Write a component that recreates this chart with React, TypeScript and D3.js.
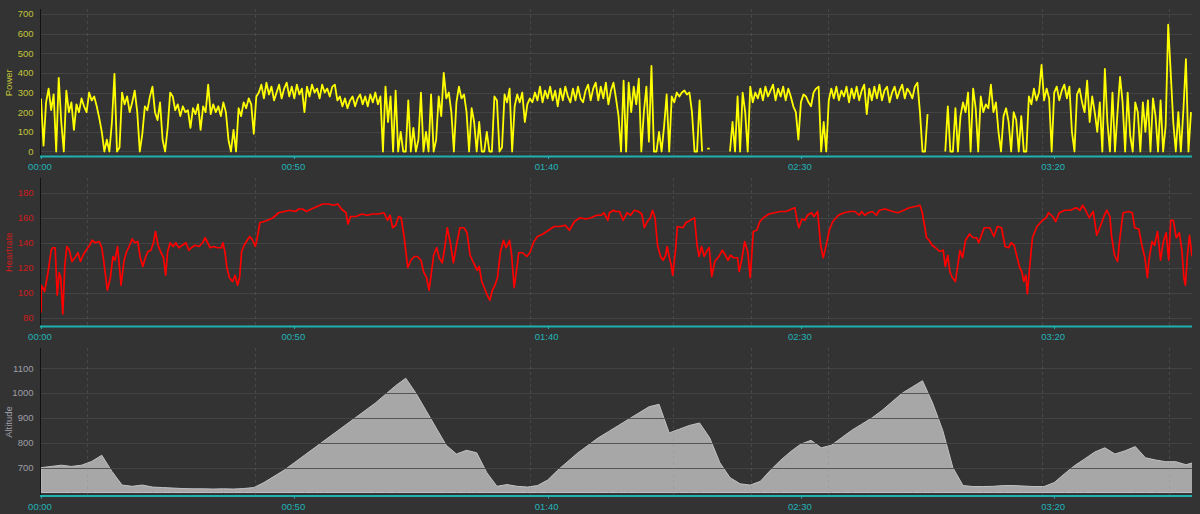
import { useEffect, useRef } from 'react';
import * as d3 from 'd3';

const WIDTH = 1200;
const HEIGHT = 514;

// ride timeline (minutes)
const RIDE_MINUTES = 227.2;
const timeTicks = [0, 50, 100, 150, 200];
const lapMarkers = [9.1, 42.2, 96.5, 124.8, 140.1, 155.3, 197.6, 222.7];

// power: one reading every 30 s, null where the recording has no data
const POWER_STEP = 0.5;
const powerWatts: (number | null)[] = [
  270, 30, 250, 320, 210, 290, 0, 375, 150, 0,
  310, 200, 250, 110, 240, 200, 270, 230, 200, 300,
  260, 280, 230, 170, 100, 0, 60, 0, 150, 395,
  0, 20, 300, 240, 280, 200, 250, 310, 200, 0,
  90, 230, 210, 280, 330, 200, 160, 250, 60, 0,
  120, 300, 280, 210, 240, 180, 230, 200, 210, 120,
  220, 190, 240, 110, 230, 200, 340, 190, 240, 200,
  230, 180, 250, 200, 60, 0, 110, 0, 220, 180,
  250, 220, 270, 240, 90, 280, 300, 340, 270, 350,
  290, 330, 260, 300, 340, 270, 320, 350, 280, 330,
  270, 340, 290, 320, 200, 330, 280, 340, 300, 320,
  270, 340, 300, 320, 280, 330, 340, 260, 280, 230,
  270, 220, 260, 280, 230, 270, 290, 240, 280, 230,
  290, 250, 300, 240, 280, 0, 330, 150, 280, 0,
  310, 0, 100, 0, 0, 260, 0, 120, 0, 60,
  300, 0, 100, 0, 290, 0, 60, 280, 180, 400,
  270, 300, 200, 0, 250, 330, 270, 290, 200, 0,
  220, 150, 0, 150, 0, 0, 100, 0, 0, 280,
  260, 0, 20, 290, 250, 320, 0, 230, 290, 250,
  300, 150, 240, 270, 250, 300, 260, 330, 250, 310,
  270, 330, 260, 310, 230, 320, 260, 330, 280, 250,
  320, 260, 330, 270, 250, 310, 340, 260, 320, 350,
  260, 330, 270, 350, 240, 310, 350, 270, 180, 0,
  360, 0, 350, 200, 330, 240, 370, 0, 200, 330,
  50, 435, 0, 0, 100, 0, 130, 290, 0, 280,
  250, 300, 280, 300, 310, 290, 300, 200, 0, 0,
  260, 0, null, 15, 15, null, null, null, null, null,
  null, null, 0, 150, 0, 280, 0, 300, 200, 0,
  330, 250, 300, 270, 320, 260, 330, 280, 310, 340,
  260, 320, 280, 330, 260, 320, 280, 230, 200, 60,
  250, 290, 280, 250, 230, 300, 320, 330, 0, 150,
  0, 260, 320, 270, 330, 260, 310, 280, 330, 250,
  320, 270, 330, 260, 310, 340, 190, 320, 260, 330,
  270, 340, 260, 310, 330, 250, 300, 330, 270, 310,
  340, 270, 320, 300, 270, 330, 350, 200, 0, 0,
  190, null, null, null, null, null, null, 0, 230, 0,
  0, 220, 0, 180, 250, 200, 300, 0, 320, 220,
  0, 280, 200, 240, 220, 340, 200, 250, 100, 0,
  180, 220, 150, 0, 200, 160, 0, 180, 0, 0,
  280, 240, 320, 260, 300, 440, 260, 320, 270, 0,
  300, 330, 260, 310, 340, 270, 330, 100, 0, 290,
  320, 250, 200, 360, 150, 280, 200, 100, 250, 0,
  420, 150, 0, 300, 0, 200, 380, 250, 0, 300,
  80, 0, 250, 200, 0, 250, 100, 260, 0, 270,
  180, 0, 260, 0, 130, 645, 400, 150, 0, 200,
  0, 210, 470, 0, 200,
];

// heart rate readings: minute of ride, bpm
const hrMinutes = [
  0.0, 0.1, 0.7, 1.2, 1.6, 2.0, 2.3, 2.8, 3.2, 3.6, 3.9, 4.3, 4.7, 5.1, 5.6, 6.1, 6.7, 7.3, 7.8, 8.3,
  8.9, 9.6, 10.1, 10.7, 11.5, 12.0, 12.4, 12.8, 13.1, 13.7, 14.2, 14.6, 15.1, 15.5, 15.8, 16.4, 16.9, 17.5, 18.0, 18.5,
  19.1, 19.6, 20.1, 20.6, 21.1, 21.7, 22.2, 22.6, 23.1, 23.7, 24.2, 24.6, 25.0, 25.5, 26.1, 26.6, 27.2, 27.9, 28.6, 29.2,
  29.7, 30.4, 31.2, 31.9, 32.4, 32.9, 33.4, 34.1, 34.8, 35.6, 35.9, 36.3, 36.7, 37.2, 37.8, 38.3, 38.8, 39.2, 39.6, 40.1,
  40.7, 41.2, 41.8, 42.3, 42.6, 43.2, 44.0, 44.7, 45.8, 46.9, 48.0, 49.1, 50.2, 50.9, 51.6, 52.4, 53.4, 54.5, 55.6, 56.7,
  57.8, 58.6, 59.3, 60.2, 60.6, 61.1, 62.2, 63.3, 64.4, 65.5, 66.6, 67.7, 68.4, 68.9, 69.4, 70.0, 70.6, 71.1, 71.7, 72.4,
  73.0, 73.7, 74.3, 75.0, 75.5, 76.1, 76.6, 77.0, 77.5, 78.1, 78.6, 79.2, 79.7, 80.2, 80.8, 81.4, 82.1, 82.7, 83.5, 84.1,
  84.7, 85.6, 86.1, 86.5, 87.0, 87.5, 88.1, 88.6, 89.1, 89.6, 90.1, 90.7, 91.3, 91.8, 92.5, 92.9, 93.4, 94.0, 94.3, 95.1,
  95.9, 96.5, 97.3, 98.0, 99.1, 100.2, 101.3, 102.4, 103.5, 104.3, 105.3, 106.4, 107.5, 108.6, 109.7, 110.6, 111.1, 111.9, 112.2, 113.0,
  113.4, 114.2, 114.9, 115.7, 116.4, 117.1, 117.9, 118.6, 119.1, 119.7, 120.3, 120.7, 121.2, 121.7, 122.3, 122.8, 123.3, 123.6, 124.0, 124.4,
  124.7, 125.3, 125.6, 126.7, 127.3, 128.2, 129.0, 129.5, 129.9, 130.4, 130.9, 131.5, 131.9, 132.4, 133.0, 133.8, 134.5, 135.1, 135.6, 136.1,
  136.7, 137.5, 137.8, 138.3, 138.9, 139.5, 140.0, 140.6, 141.3, 141.9, 142.6, 143.7, 144.8, 145.9, 147.1, 148.2, 148.8, 149.3, 149.6, 150.2,
  150.8, 151.3, 152.1, 152.6, 153.3, 153.9, 154.4, 155.0, 155.6, 156.3, 157.4, 158.5, 159.6, 160.7, 161.5, 162.0, 162.6, 163.3, 164.1, 164.9,
  165.5, 166.6, 167.4, 168.1, 169.2, 170.3, 171.4, 172.6, 173.5, 173.9, 174.4, 174.8, 175.3, 175.9, 176.6, 177.4, 178.1, 178.5, 179.0, 179.4,
  179.9, 180.5, 180.9, 181.4, 181.9, 182.5, 183.3, 184.0, 184.7, 185.1, 185.9, 186.2, 187.3, 188.1, 188.8, 189.6, 190.3, 191.0, 191.5, 192.1,
  192.7, 193.2, 193.6, 194.0, 194.4, 194.7, 195.1, 195.7, 196.6, 197.7, 198.4, 198.9, 199.7, 200.3, 201.0, 202.1, 203.2, 204.3, 205.1, 205.6,
  206.2, 206.9, 207.7, 208.4, 209.1, 209.9, 210.4, 211.0, 211.3, 211.9, 212.5, 213.0, 213.6, 214.7, 215.4, 215.9, 216.7, 217.3, 217.9, 218.4,
  218.7, 219.3, 219.8, 220.4, 221.0, 221.5, 222.1, 222.6, 223.0, 223.5, 224.1, 224.7, 225.2, 225.6, 225.9, 226.3, 226.7, 227.2,
];
const hrBpm = [
  84, 106, 101, 112, 122, 134, 136, 136, 98, 116, 112, 83, 122, 137, 134, 125, 128, 132, 125, 130,
  134, 138, 142, 140, 141, 136, 125, 112, 102, 112, 129, 126, 137, 120, 106, 126, 133, 138, 143, 140,
  141, 128, 121, 128, 133, 134, 140, 149, 138, 132, 128, 114, 133, 140, 137, 140, 136, 138, 140, 134,
  136, 138, 137, 140, 144, 140, 136, 137, 136, 136, 140, 133, 120, 112, 109, 114, 106, 112, 133, 138,
  142, 145, 142, 137, 142, 156, 157, 158, 160, 164, 165, 166, 165, 167, 167, 165, 167, 169, 171, 171,
  170, 171, 167, 164, 155, 161, 161, 163, 162, 163, 163, 164, 158, 162, 152, 154, 161, 160, 144, 120,
  126, 129, 129, 126, 117, 112, 102, 114, 130, 136, 128, 124, 136, 152, 140, 124, 140, 152, 152, 148,
  130, 122, 118, 121, 109, 104, 98, 94, 102, 106, 112, 133, 142, 136, 142, 130, 104, 122, 132, 132,
  129, 132, 141, 145, 147, 150, 153, 153, 154, 150, 157, 160, 159, 160, 162, 162, 164, 158, 164, 166,
  165, 165, 158, 164, 162, 166, 165, 163, 152, 157, 160, 166, 160, 138, 129, 126, 130, 137, 129, 122,
  114, 136, 153, 152, 156, 158, 160, 138, 129, 137, 129, 134, 136, 113, 125, 129, 134, 130, 126, 130,
  128, 128, 117, 126, 141, 133, 112, 149, 150, 157, 160, 163, 164, 165, 165, 167, 168, 157, 152, 159,
  158, 162, 164, 161, 165, 138, 128, 138, 150, 157, 162, 164, 165, 165, 162, 165, 162, 164, 165, 162,
  166, 167, 166, 165, 164, 166, 168, 169, 170, 165, 154, 144, 142, 138, 136, 133, 134, 121, 130, 117,
  112, 109, 120, 134, 128, 142, 147, 144, 144, 140, 149, 152, 152, 145, 153, 152, 137, 136, 140, 138,
  128, 120, 117, 109, 114, 99, 118, 144, 153, 158, 160, 164, 161, 157, 164, 166, 166, 168, 166, 170,
  166, 160, 165, 146, 153, 162, 166, 161, 146, 130, 125, 145, 164, 165, 164, 152, 151, 138, 128, 112,
  126, 141, 138, 149, 126, 140, 148, 126, 158, 158, 144, 148, 134, 112, 106, 130, 146, 129,
];

// altitude: one reading every 2 min
const ALT_STEP = 2;
const ALT_BASE = 600;
const altitudeMeters = [
  700, 705, 710, 705, 710, 725, 750, 685, 630, 625,
  630, 622, 620, 618, 616, 615, 615, 614, 615, 614,
  616, 620, 640, 665, 690, 720, 750, 780, 810, 840,
  870, 900, 930, 960, 995, 1030, 1060, 1000, 930, 860,
  790, 755, 770, 760, 680, 625, 632, 625, 622, 628,
  650, 690, 725, 760, 790, 820, 845, 870, 895, 920,
  945, 955, 840, 855, 870, 880, 820, 720, 660, 635,
  630, 645, 690, 730, 765, 795, 810, 780, 790, 820,
  850, 875, 900, 930, 965, 1000, 1025, 1050, 960, 850,
  700, 628, 624, 624, 625, 628, 628, 626, 624, 624,
  640, 675, 708, 735, 763, 780, 755, 768, 785, 740,
  731, 724, 724, 712, 723,
];

const powerTicks = [0, 100, 200, 300, 400, 500, 600, 700];
const hrTicks = [80, 100, 120, 140, 160, 180];
const altitudeTicks = [700, 800, 900, 1000, 1100];

const plot = { left: 41, right: 1192 };

const panels = [
  { id: 'power', title: 'Power', color: '#c4c43a', top: 9, bottom: 156.5, domain: [-25.5, 725], ticks: powerTicks },
  { id: 'hr', title: 'Heartrate', color: '#cf1b1b', top: 178, bottom: 326.5, domain: [73, 191.8], ticks: hrTicks },
  { id: 'alt', title: 'Altitude', color: '#9e9ea7', top: 348, bottom: 496, domain: [586, 1181.7], ticks: altitudeTicks },
];

const pad2 = d3.format('02d');
const fmtTime = (m: number) => pad2(Math.floor(m / 60)) + ':' + pad2(m % 60);

const FONT = '"Liberation Sans", Arial, sans-serif';

const RideChart = () => {
  const ref = useRef<SVGSVGElement>(null);

  useEffect(() => {
    const svg = d3.select(ref.current);
    svg.selectAll('*').remove();

    const x = d3.scaleLinear().domain([0, RIDE_MINUTES]).range([plot.left, plot.right]);

    svg.append('rect').attr('width', WIDTH).attr('height', HEIGHT).attr('fill', '#333333');

    panels.forEach((p) => {
      const y = d3.scaleLinear().domain(p.domain).range([p.bottom, p.top]);
      const g = svg.append('g').attr('class', 'panel-' + p.id);

      g.append('clipPath')
        .attr('id', 'clip-' + p.id)
        .append('rect')
        .attr('x', plot.left)
        .attr('y', p.top)
        .attr('width', plot.right - plot.left)
        .attr('height', p.bottom - p.top);

      // altitude is a filled profile, drawn under the grid
      if (p.id === 'alt') {
        const area = d3
          .area<number>()
          .x((d, i) => x(i * ALT_STEP))
          .y0(y(ALT_BASE))
          .y1((d) => y(d));
        g.append('path')
          .datum(altitudeMeters)
          .attr('clip-path', 'url(#clip-alt)')
          .attr('d', area)
          .attr('fill', '#a7a7a7')
          .attr('stroke', '#c2c2c2')
          .attr('stroke-width', 1);
      }

      // horizontal grid
      g.selectAll('.hgrid')
        .data(p.ticks)
        .enter()
        .append('line')
        .attr('class', 'hgrid')
        .attr('x1', plot.left)
        .attr('x2', plot.right)
        .attr('y1', (d: number) => Math.round(y(d)) + 0.5)
        .attr('y2', (d: number) => Math.round(y(d)) + 0.5)
        .attr('stroke', '#474747')
        .attr('stroke-opacity', 0.85);

      // lap markers (faint, so they stay soft over the altitude fill)
      g.selectAll('.lap')
        .data(lapMarkers)
        .enter()
        .append('line')
        .attr('class', 'lap')
        .attr('x1', (d: number) => Math.round(x(d)) + 0.5)
        .attr('x2', (d: number) => Math.round(x(d)) + 0.5)
        .attr('y1', p.top)
        .attr('y2', p.bottom - 1)
        .attr('stroke', '#888888')
        .attr('stroke-opacity', 0.25)
        .attr('stroke-dasharray', '3,3');

      if (p.id === 'power') {
        const line = d3
          .line<number | null>()
          .defined((d) => d !== null)
          .x((d, i) => x(i * POWER_STEP))
          .y((d) => y(d as number));
        g.append('path')
          .datum(powerWatts)
          .attr('clip-path', 'url(#clip-power)')
          .attr('d', line)
          .attr('fill', 'none')
          .attr('stroke', '#ffff00')
          .attr('stroke-width', 1.8)
          .attr('stroke-linejoin', 'round');
      }

      if (p.id === 'hr') {
        const line = d3
          .line<number>()
          .x((d) => x(hrMinutes[d]))
          .y((d) => y(hrBpm[d]));
        g.append('path')
          .datum(d3.range(hrBpm.length))
          .attr('clip-path', 'url(#clip-hr)')
          .attr('d', line)
          .attr('fill', 'none')
          .attr('stroke', '#ff0000')
          .attr('stroke-width', 1.7)
          .attr('stroke-linejoin', 'round');
      }

      // left axis line
      g.append('line')
        .attr('x1', plot.left - 0.5)
        .attr('x2', plot.left - 0.5)
        .attr('y1', p.top)
        .attr('y2', p.bottom)
        .attr('stroke', '#111111');

      // time axis
      g.append('line')
        .attr('x1', plot.left - 1)
        .attr('x2', plot.right)
        .attr('y1', p.bottom)
        .attr('y2', p.bottom)
        .attr('stroke', '#1fb1b1')
        .attr('stroke-width', 2);

      g.selectAll('.tmark')
        .data(timeTicks)
        .enter()
        .append('line')
        .attr('x1', (d: number) => Math.round(x(d)) + 0.5)
        .attr('x2', (d: number) => Math.round(x(d)) + 0.5)
        .attr('y1', p.bottom)
        .attr('y2', p.bottom + 2.5)
        .attr('stroke', '#1fb1b1');

      g.selectAll('.tlabel')
        .data(timeTicks)
        .enter()
        .append('text')
        .attr('x', (d: number) => x(d) - 1)
        .attr('y', p.bottom + 13.5)
        .attr('text-anchor', 'middle')
        .attr('fill', '#22b4b9')
        .style('font-family', FONT)
        .style('font-size', '9.5px')
        .text((d: number) => fmtTime(d));

      // value labels
      g.selectAll('.ylabel')
        .data(p.ticks)
        .enter()
        .append('text')
        .attr('x', 33.5)
        .attr('y', (d: number) => y(d))
        .attr('dy', '0.35em')
        .attr('text-anchor', 'end')
        .attr('fill', p.color)
        .style('font-family', FONT)
        .style('font-size', '9.5px')
        .text((d: number) => d);

      g.append('text')
        .attr('transform', `translate(12,${(p.top + p.bottom) / 2}) rotate(-90)`)
        .attr('text-anchor', 'middle')
        .attr('fill', p.color)
        .style('font-family', FONT)
        .style('font-size', '9.5px')
        .text(p.title);
    });
  }, []);

  return (
    <svg
      ref={ref}
      width={WIDTH}
      height={HEIGHT}
      style={{ position: 'absolute', left: 0, top: 0, display: 'block' }}
    />
  );
};

export default function App() {
  return <RideChart />;
}
